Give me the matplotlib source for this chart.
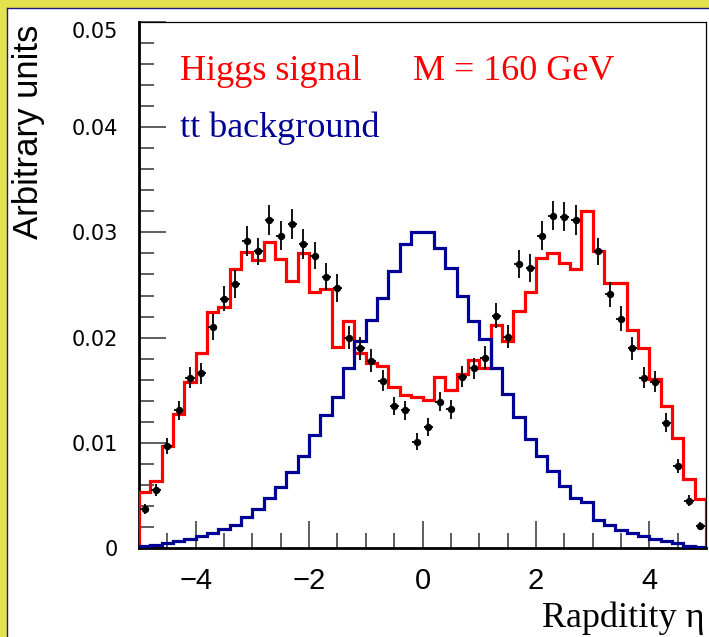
import numpy as np
import matplotlib
matplotlib.use("Agg")
import matplotlib.pyplot as plt
from matplotlib.patches import Rectangle
from matplotlib.lines import Line2D
from matplotlib.ticker import MultipleLocator

# Rapidity binning: 50 bins from -5 to 5
eta_lo, eta_hi, n_bins = -5.0, 5.0, 50

# Higgs signal (M = 160 GeV) histogram
higgs = [0.0053, 0.0064, 0.0097, 0.0127, 0.0158, 0.0185, 0.0224, 0.0229, 0.0265, 0.0281,
         0.0274, 0.0291, 0.0275, 0.0254, 0.0280, 0.0243, 0.0246, 0.0191, 0.0216, 0.0185,
         0.0176, 0.0173, 0.0153, 0.0145, 0.0144, 0.0141, 0.0163, 0.0150, 0.0165, 0.0179,
         0.0171, 0.0212, 0.0197, 0.0225, 0.0243, 0.0276, 0.0280, 0.0271, 0.0265, 0.0320,
         0.0282, 0.0252, 0.0252, 0.0207, 0.0190, 0.0161, 0.0135, 0.0105, 0.0066, 0.0047]

# ttbar background histogram
ttbar = [0.0002, 0.0003, 0.0005, 0.0007, 0.0009, 0.0011, 0.0014, 0.0018, 0.0022, 0.0029,
         0.0037, 0.0048, 0.0058, 0.0072, 0.0087, 0.0107, 0.0126, 0.0144, 0.0171, 0.0197,
         0.0217, 0.0238, 0.0263, 0.0289, 0.0300, 0.0300, 0.0285, 0.0266, 0.0240, 0.0216,
         0.0199, 0.0171, 0.0146, 0.0125, 0.0104, 0.0087, 0.0073, 0.0059, 0.0048, 0.0044,
         0.0027, 0.0022, 0.0017, 0.0014, 0.0011, 0.0009, 0.0007, 0.0005, 0.0002, 0.0001]

# Pseudo-data points with statistical errors (no entry in bin 39)
data = [0.0037, 0.0055, 0.0097, 0.0131, 0.0162, 0.0166, 0.0210, 0.0237, 0.0251, 0.0292,
        0.0282, 0.0312, 0.0297, 0.0308, 0.0289, 0.0278, 0.0258, 0.0247, 0.0200, 0.0190,
        0.0178, 0.0159, 0.0135, 0.0131, 0.0101, 0.0115, 0.0139, 0.0132, 0.0163, 0.0171,
        0.0181, 0.0221, 0.0201, 0.0270, 0.0266, 0.0297, 0.0316, 0.0315, 0.0312, np.nan,
        0.0282, 0.0241, 0.0218, 0.0190, 0.0162, 0.0158, 0.0119, 0.0078, 0.0045, 0.0021]
data_err = [0.0005, 0.0006, 0.0008, 0.0009, 0.0010, 0.0010, 0.0012, 0.0012, 0.0013, 0.0014,
            0.0013, 0.0014, 0.0014, 0.0014, 0.0014, 0.0013, 0.0013, 0.0013, 0.0011, 0.0011,
            0.0011, 0.0010, 0.0009, 0.0009, 0.0008, 0.0009, 0.0009, 0.0009, 0.0010, 0.0010,
            0.0011, 0.0012, 0.0011, 0.0013, 0.0013, 0.0014, 0.0014, 0.0014, 0.0014, np.nan,
            0.0013, 0.0012, 0.0012, 0.0011, 0.0010, 0.0010, 0.0009, 0.0007, 0.0005, 0.0004]

xticks = [-4, -2, 0, 2, 4]
xtick_labels = ["\u22124", "\u22122", "0", "2", "4"]
yticks = [0.0, 0.01, 0.02, 0.03, 0.04, 0.05]
ytick_labels = ["0", "0.01", "0.02", "0.03", "0.04", "0.05"]

W, H = 709, 637
fig = plt.figure(figsize=(W / 100, H / 100), dpi=100)
fig.patch.set_facecolor("#e6e24e")

# white canvas with navy rule inside the yellow frame
fig.add_artist(Rectangle((8 / W, 0), 1 - 8 / W, 1 - 8 / H, transform=fig.transFigure,
                         facecolor="white", edgecolor="none", zorder=-5))
fig.add_artist(Line2D([7.5 / W, 7.5 / W], [0, 1 - 7.5 / H], transform=fig.transFigure,
                      color="#1a1a80", lw=1.0))
fig.add_artist(Line2D([7.5 / W, 1], [1 - 7.5 / H, 1 - 7.5 / H], transform=fig.transFigure,
                      color="#1a1a80", lw=1.0))

ax = fig.add_axes([139 / W, 1 - 548 / H, (706 - 139) / W, (548 - 22) / H])
ax.set_facecolor("white")

edges = np.linspace(eta_lo, eta_hi, n_bins + 1)
centers = 0.5 * (edges[:-1] + edges[1:])

ax.stairs(higgs, edges, baseline=0, color="#ff0000", lw=2.3, zorder=3)
ax.stairs(ttbar, edges, baseline=0, color="#000096", lw=2.3, zorder=3)
ax.errorbar(centers, data, yerr=data_err, xerr=0.08, fmt="o", color="black",
            ms=4.3, elinewidth=1.3, capsize=0, zorder=4)

ax.set_xlim(eta_lo, eta_hi)
ax.set_ylim(0, 0.05)

for side in ("left", "bottom"):
    ax.spines[side].set_linewidth(2.0)
for side in ("top", "right"):
    ax.spines[side].set_linewidth(0.9)

ax.set_xticks(xticks, labels=xtick_labels)
ax.xaxis.set_minor_locator(MultipleLocator(0.5))
ax.set_yticks(yticks, labels=ytick_labels)
ax.yaxis.set_minor_locator(MultipleLocator(0.002))

ax.tick_params(axis="both", which="both", direction="in", color="#333333", width=1.1,
               top=False, right=False)
ax.tick_params(axis="both", which="major", length=19.5)
ax.tick_params(axis="both", which="minor", length=10.5)
ax.tick_params(axis="x", which="major", pad=14, labelsize=21)
ax.tick_params(axis="y", which="major", pad=15, labelsize=15)
for lab in ax.get_xticklabels():
    lab.set_fontfamily("Liberation Sans")
for lab in ax.get_yticklabels():
    lab.set_fontfamily("DejaVu Sans")
ax.yaxis.get_major_ticks()[-1].label1.set_verticalalignment("top")

fig.text(29 / W, 1 - 25 / H, "Arbitrary units", rotation=90, ha="center", va="top",
         fontsize=25, family="Liberation Sans")
fig.text(705 / W, 1 - 627 / H, "Rapditity \u03b7", ha="right", va="baseline",
         fontsize=26, family="Liberation Serif")

fig.text(180 / W, 1 - 80 / H, "Higgs signal", ha="left", va="baseline",
         fontsize=26, family="Liberation Serif", color="#ff0000")
fig.text(413 / W, 1 - 80 / H, "M = 160 GeV", ha="left", va="baseline",
         fontsize=26, family="Liberation Serif", color="#ff0000")
fig.text(180 / W, 1 - 137 / H, "tt background", ha="left", va="baseline",
         fontsize=26, family="Liberation Serif", color="#000096")

fig.savefig("out.png", dpi=100, facecolor=fig.get_facecolor())
